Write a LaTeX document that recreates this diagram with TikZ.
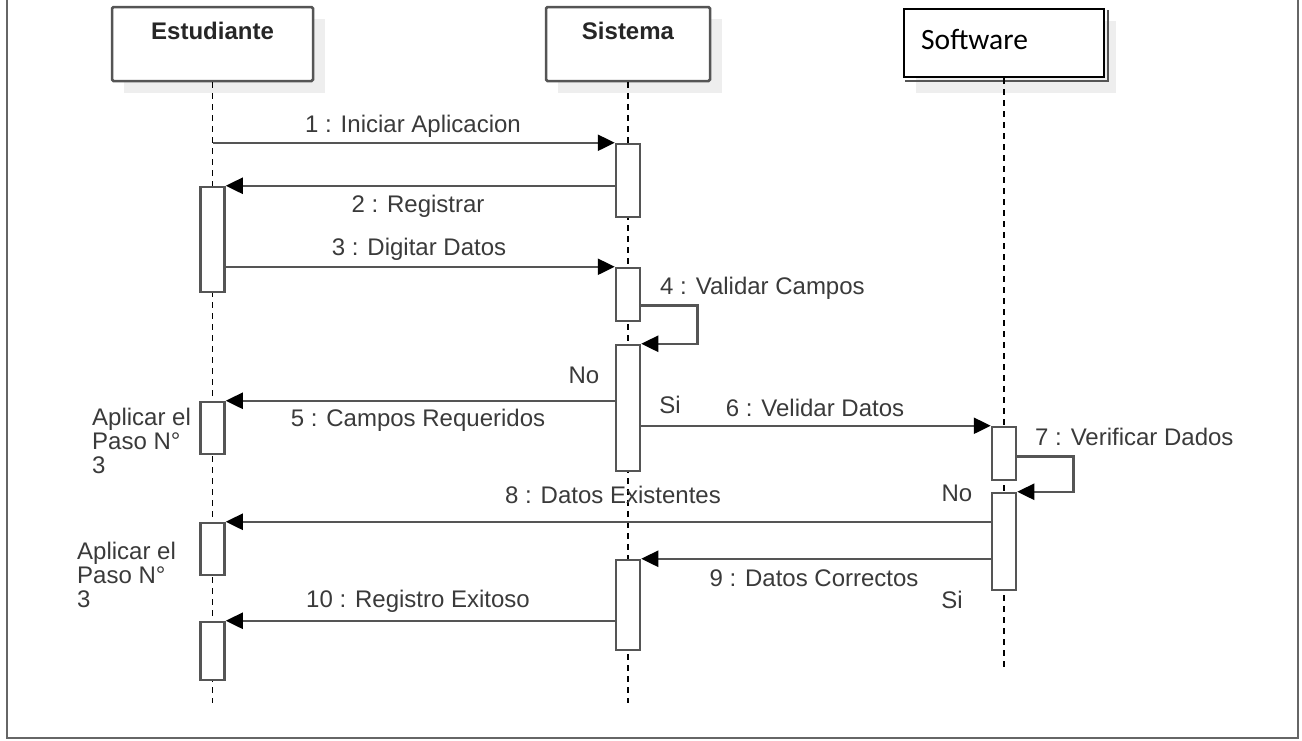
\documentclass[tikz,border=0pt]{standalone}
\usepackage{fontspec}
\setmainfont{Liberation Sans}
\newfontfamily\calfont{Carlito}
\usetikzlibrary{arrows.meta,calc}
\definecolor{linegray}{HTML}{555555}
\definecolor{framegray}{HTML}{666666}
\definecolor{txtgray}{HTML}{3A3A3A}
\definecolor{shadowgray}{HTML}{EEEEEE}
\tikzset{
  actorbox/.style={draw=linegray, line width=2.5pt, fill=white, rounded corners=1.5pt, inner sep=0pt},
  actbox/.style={draw=linegray, line width=2.5pt, fill=white, minimum width=24pt, inner sep=0pt},
  lifeline/.style={draw=black, line width=1.6pt, dash pattern=on 6pt off 5pt},
  msg/.style={draw=linegray, line width=2.5pt, -{Triangle[length=17pt,width=16pt,fill=black,color=black]}},
  lbl/.style={text=txtgray, font=\fontsize{24}{24}\selectfont, inner sep=0pt},
  hdr/.style={text=black!85, font=\fontsize{24}{24}\selectfont\bfseries, inner sep=0pt},
  note/.style={text=txtgray, font=\fontsize{24}{24}\selectfont, inner sep=0pt, align=left, anchor=north west}
}
\begin{document}
\begin{tikzpicture}[x=1pt,y=-1pt]
\useasboundingbox (0,0) rectangle (1302,740);
% frame
\draw[framegray, line width=2.5pt] (7,-3) -- (7,738) -- (1298,738) -- (1298,-3);

% actor shadows
\fill[shadowgray] (124,19) rectangle (325,93);
\fill[shadowgray] (558,19) rectangle (722,93);
\fill[shadowgray] (916,21) rectangle (1116,93);

% actors
\node[actorbox, minimum width=201pt, minimum height=74pt] (E) at (212.5,44) {};
\node[actorbox, minimum width=164pt, minimum height=74pt] (S) at (628,44) {};
\node[draw=black, line width=2pt, fill=white, minimum width=200pt, minimum height=68pt, inner sep=0pt] (W) at (1004,43) {};
\draw[linegray, line width=1.5pt] ([xshift=3pt,yshift=-2pt]W.north east) -- ([xshift=3pt,yshift=-3pt]W.south east) -- ([xshift=2pt,yshift=-3pt]W.south west);

\node[hdr] (Et) at ([yshift=-25pt]E.north) {Estudiante};
\node[hdr] (St) at ([yshift=-25pt]S.north) {Sistema};
\node[anchor=west, inner sep=0pt, font=\calfont\fontsize{29.5}{29.5}\selectfont] (Wt) at (921,39) {Software};

% lifeline ends
\coordinate (Eend) at (212.5,703);
\coordinate (Send) at (628,703);
\coordinate (Wend) at (1004,668);
\draw[lifeline] (E.south) -- (Eend);
\draw[lifeline] (S.south) -- (Send);
\draw[lifeline] (W.south) -- (Wend);

% activations
\node[actbox, minimum height=73pt]  (a1) at (628,180.5) {};
\node[actbox, minimum height=105pt] (e1) at (212.5,239.5) {};
\node[actbox, minimum height=53pt]  (a2) at (628,294.5) {};
\node[actbox, minimum height=126pt] (a3) at (628,408) {};
\node[actbox, minimum height=52pt]  (e2) at (212.5,428) {};
\node[actbox, minimum height=53pt]  (w1) at (1004,453.5) {};
\node[actbox, minimum height=97pt]  (w2) at (1004,541.5) {};
\node[actbox, minimum height=52pt]  (e3) at (212.5,549) {};
\node[actbox, minimum height=90pt]  (a4) at (628,605) {};
\node[actbox, minimum height=58pt]  (e4) at (212.5,651) {};

% messages
\draw[msg] (E |- a1.north) -- (a1.north west);
\draw[msg] (a1.west |- e1.north) -- (e1.north east);
\draw[msg] (e1.east |- a2.north) -- (a2.north west);
\draw[msg] ($(a2.north east)!0.7!(a2.south east)$) -- ++(56,0) |- (a3.north east);
\draw[msg] (a3.west |- e2.north) -- (e2.north east);
\draw[msg] (a3.east |- w1.north) -- (w1.north west);
\draw[msg] ($(w1.north east)!0.55!(w1.south east)$) -- ++(56,0) |- (w2.north east);
\draw[msg] (w2.west |- e3.north) -- (e3.north east);
\draw[msg] (w2.west |- a4.north) -- (a4.north east);
\draw[msg] (a4.west |- e4.north) -- (e4.north east);

% labels
\node[lbl] (l1) at (413,126) {1 : Iniciar Aplicacion};
\node[lbl] (l2) at (418,206) {2 : Registrar};
\node[lbl] (l3) at (419,249) {3 : Digitar Datos};
\node[lbl, anchor=west] (l4) at (660,288) {4 : Validar Campos};
\node[lbl] (l5) at (418,420) {5 : Campos Requeridos};
\node[lbl] (no1) at (584,375) {No};
\node[lbl] (si1) at (670,405) {Si};
\node[lbl] (l6) at (815,408) {6 : Velidar Datos};
\node[lbl, anchor=west] (l7) at (1035,437) {7 : Verificar Dados};
\node[lbl] (l8) at (613,495) {8 : Datos Existentes};
\node[lbl] (no2) at (957,493) {No};
\node[lbl] (l9) at (814,578) {9 : Datos Correctos};
\node[lbl] (si2) at (952,600) {Si};
\node[lbl] (l10) at (418,601) {10 : Registro Exitoso};

\node[note] (n1) at (92,408) {Aplicar el\\Paso N°\\3};
\node[note] (n2) at (77,542) {Aplicar el\\Paso N°\\3};
\end{tikzpicture}
\end{document}
